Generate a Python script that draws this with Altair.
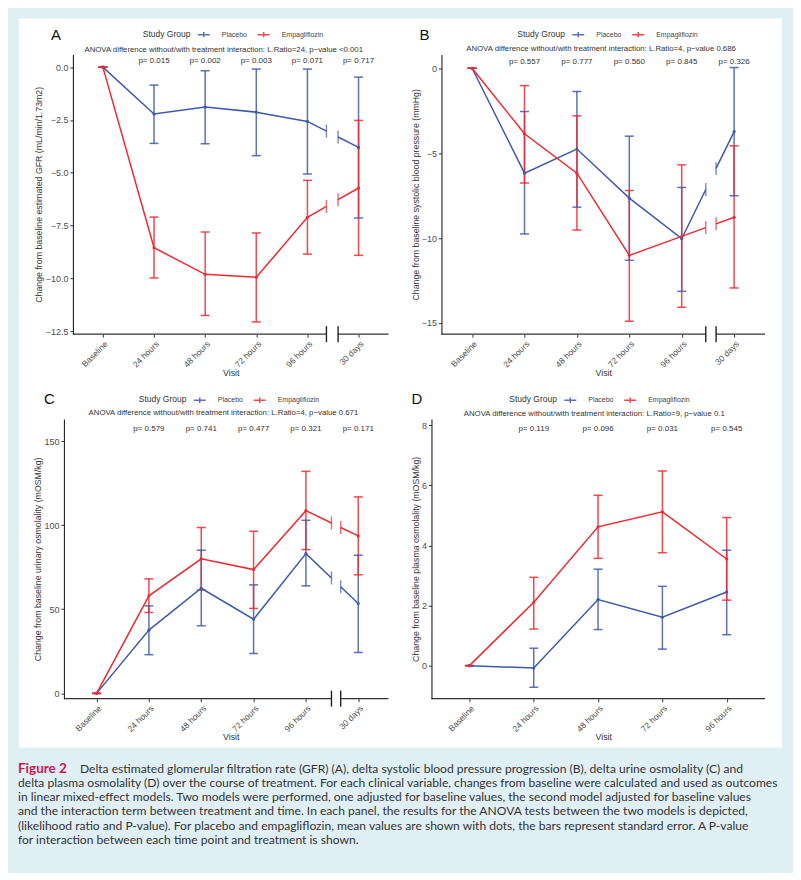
import json
import pandas as pd
import altair as alt

BLUE = "#3f5aa8"
RED = "#ee2a30"
LIGHT = "#e0eff4"
FONT = "Liberation Sans"
GROUPS = ["Placebo", "Empagliflozin"]

VISITS = ["Baseline", "24 hours", "48 hours", "72 hours", "96 hours", "30 days"]
VISITS_D = ["Baseline", "24 hours", "48 hours", "72 hours", "96 hours"]

# Panel A: eGFR
A_PLA_MEAN = [0, -2.22, -1.89, -2.13, -2.57, -3.80]
A_PLA_LO = [0, -3.61, -3.63, -4.19, -5.06, -7.14]
A_PLA_HI = [0, -0.85, -0.17, -0.09, -0.09, -0.47]
A_EMP_MEAN = [0, -8.55, -9.81, -9.95, -7.11, -5.72]
A_EMP_LO = [0, -9.98, -11.76, -12.06, -8.85, -8.91]
A_EMP_HI = [0, -7.10, -7.81, -7.85, -5.36, -2.52]
A_PVALS = ["p= 0.015", "p= 0.002", "p= 0.003", "p= 0.071", "p= 0.717"]
A_ANOVA = "ANOVA difference without/with treatment interaction: L.Ratio=24, p\u2212value <0.001"
A_YTITLE = "Change from baseline estimated GFR (mL/min/1.73m2)"
A_YTICKS = [0, -2.5, -5, -7.5, -10, -12.5]

# Panel B: systolic blood pressure
B_PLA_MEAN = [0, -6.18, -4.76, -7.65, -10.04, -3.73]
B_PLA_LO = [0, -9.76, -8.18, -11.31, -13.14, -7.51]
B_PLA_HI = [0, -2.55, -1.37, -4.00, -7.02, 0.04]
B_EMP_MEAN = [0, -3.86, -6.18, -11.02, -9.90, -8.78]
B_EMP_LO = [0, -6.76, -9.53, -14.90, -14.08, -12.94]
B_EMP_HI = [0, -1.02, -2.80, -7.20, -5.69, -4.57]
B_PVALS = ["p= 0.557", "p= 0.777", "p= 0.560", "p= 0.845", "p= 0.326"]
B_ANOVA = "ANOVA difference without/with treatment interaction: L.Ratio=4, p\u2212value 0.686"
B_YTITLE = "Change from baseline systolic blood pressure (mmHg)"
B_YTICKS = [0, -5, -10, -15]

# Panel C: urinary osmolality
C_PLA_MEAN = [0, 37.6, 62.5, 44.1, 83.1, 53.4]
C_PLA_LO = [0, 23.0, 40.2, 23.7, 63.9, 24.3]
C_PLA_HI = [0, 52.0, 85.1, 64.5, 102.9, 82.1]
C_EMP_MEAN = [0, 58.0, 80.0, 73.6, 108.6, 93.6]
C_EMP_LO = [0, 48.1, 61.4, 50.5, 85.5, 70.5]
C_EMP_HI = [0, 68.1, 98.6, 96.4, 132.0, 116.8]
C_PVALS = ["p= 0.579", "p= 0.741", "p= 0.477", "p= 0.321", "p= 0.171"]
C_ANOVA = "ANOVA difference without/with treatment interaction: L.Ratio=4, p\u2212value 0.671"
C_YTITLE = "Change from baseline urinary osmolality (mOSM/kg)"
C_YTICKS = [0, 50, 100, 150]

# Panel D: plasma osmolality
D_PLA_MEAN = [0, -0.08, 2.20, 1.61, 2.45]
D_PLA_LO = [0, -0.72, 1.20, 0.55, 1.03]
D_PLA_HI = [0, 0.58, 3.21, 2.64, 3.84]
D_EMP_MEAN = [0, 2.11, 4.62, 5.12, 3.55]
D_EMP_LO = [0, 1.22, 3.57, 3.76, 2.18]
D_EMP_HI = [0, 2.94, 5.67, 6.48, 4.93]
D_PVALS = ["p= 0.119", "p= 0.096", "p= 0.031", "p= 0.545"]
D_ANOVA = "ANOVA difference without/with treatment interaction: L.Ratio=9, p\u2212value 0.1"
D_YTITLE = "Change from baseline plasma osmolality (mOSM/kg)"
D_YTICKS = [0, 2, 4, 6, 8]

CAPTION_HEAD = "Figure 2"
CAPTION_LINE1 = ("Delta estimated glomerular filtration rate (GFR) (A), delta systolic blood "
                 "pressure progression (B), delta urine osmolality (C) and")
CAPTION_REST = [
    "delta plasma osmolality (D) over the course of treatment. For each clinical variable, changes from baseline were calculated and used as outcomes",
    "in linear mixed-effect models. Two models were performed, one adjusted for baseline values, the second model adjusted for baseline values",
    "and the interaction term between treatment and time. In each panel, the results for the ANOVA tests between the two models is depicted,",
    "(likelihood ratio and P-value). For placebo and empagliflozin, mean values are shown with dots, the bars represent standard error. A P-value",
    "for interaction between each time point and treatment is shown.",
]

LEGEND_SYMBOL = "M-1,0L1,0M0,-0.45L0,0.45"


def build_panel(letter, visits, series, pvals, anova, ytitle, yticks, yfmt, cfg, first=False):
    w, h = cfg["w"], cfg["h"]
    n = len(visits)
    bl_br = cfg.get("breaks")

    err_rows, cap_rows, pt_rows, line_rows, brk_rows = [], [], [], [], []
    for g, (mean, lo, hi) in zip(GROUPS, series):
        for i in range(n):
            err_rows.append({"x": i, "lo": lo[i], "hi": hi[i], "group": g})
            cap_rows.append({"x": i, "y": lo[i], "group": g})
            cap_rows.append({"x": i, "y": hi[i], "group": g})
            pt_rows.append({"x": i, "y": mean[i], "group": g})
        if bl_br:
            bl, br = bl_br
            ybl = mean[4] + (bl - 4) * (mean[5] - mean[4])
            ybr = mean[4] + (br - 4) * (mean[5] - mean[4])
            for i in range(5):
                line_rows.append({"x": i, "y": mean[i], "group": g, "seg": g + "0"})
            line_rows.append({"x": bl, "y": ybl, "group": g, "seg": g + "0"})
            line_rows.append({"x": br, "y": ybr, "group": g, "seg": g + "1"})
            line_rows.append({"x": 5, "y": mean[5], "group": g, "seg": g + "1"})
            brk_rows.append({"x": bl, "y": ybl, "group": g})
            brk_rows.append({"x": br, "y": ybr, "group": g})
        else:
            for i in range(n):
                line_rows.append({"x": i, "y": mean[i], "group": g, "seg": g + "0"})

    xaxis = alt.Axis(
        values=list(range(n)),
        labelExpr=f"{json.dumps(visits)}[datum.value]",
        labelAngle=315, labelAlign="right", labelBaseline="top",
        labelFontSize=8.5, labelColor="#4d4d4d", labelPadding=2,
        domain=False, ticks=True, tickSize=3, tickColor="#333333", grid=False,
        title="Visit", titleFontSize=8.8, titleFontWeight="normal", titleColor="#333333",
        titleY=38, titleBaseline="middle", zindex=1,
    )
    if yfmt == ".1f":
        lexpr = "replace(format(datum.value, '.1f'), '-', '\u2212')"
    else:
        lexpr = "replace(format(datum.value, 'd'), '-', '\u2212')"
    yaxis = alt.Axis(
        values=yticks, labelExpr=lexpr, labelFontSize=9, labelColor="#4d4d4d",
        labelPadding=2, domain=True, domainColor="#222222", domainWidth=1.1,
        ticks=True, tickSize=3, tickColor="#333333", grid=False, offset=cfg["yoff"],
        title=ytitle, titleFontSize=8.8, titleFontWeight="normal", titleColor="#333333",
        titleX=cfg["ytx"], titleY=h / 2, titleAngle=270, titleAlign="center",
        titleBaseline="middle", zindex=1,
    )
    xsc = alt.Scale(domain=cfg["xdom"], nice=False, zero=False)
    ysc = alt.Scale(domain=cfg["ydom"], nice=False, zero=False)
    X = alt.X("x:Q", scale=xsc, axis=xaxis)
    colsc = alt.Scale(domain=GROUPS, range=[BLUE, RED])
    COL = alt.Color(
        "group:N", scale=colsc,
        legend=alt.Legend(
            orient="none", legendX=cfg["lgx"], legendY=cfg["lgy"], direction="horizontal",
            title="Study Group", titleOrient="left", titleFontSize=8.5,
            titleFontWeight="normal", titleColor="#333333", titleFont=FONT,
            titlePadding=6, titleBaseline="middle",
            labelFontSize=7, labelColor="#444444", labelFont=FONT, labelOffset=11,
            symbolType=LEGEND_SYMBOL, symbolSize=144, symbolStrokeWidth=1.5,
            columnPadding=7, padding=0, zindex=2,
        ),
    )

    layers = []
    one = pd.DataFrame({"k": [0]})
    if first:
        layers.append(alt.Chart(one).mark_rect(color=LIGHT).encode(
            x=alt.value(-64), x2=alt.value(720), y=alt.value(-45), y2=alt.value(818)))
        layers.append(alt.Chart(one).mark_rect(color="#ffffff").encode(
            x=alt.value(-54), x2=alt.value(710), y=alt.value(-36), y2=alt.value(694)))
        layers.append(alt.Chart(one).mark_text(
            align="left", baseline="alphabetic", font="Lato", fontWeight="bold",
            fontSize=13.5, color="#c8194f").encode(
            x=alt.value(-55), y=alt.value(719.5), text=alt.value(CAPTION_HEAD)))
        layers.append(alt.Chart(one).mark_text(
            align="left", baseline="alphabetic", font="Lato", fontSize=12.1,
            color="#333333").encode(
            x=alt.value(7), y=alt.value(719.5), text=alt.value(CAPTION_LINE1)))
        layers.append(alt.Chart(one).mark_text(
            align="left", baseline="alphabetic", font="Lato", fontSize=12.1,
            color="#333333", lineHeight=14.2).encode(
            x=alt.value(-55), y=alt.value(733.5), text=alt.value(CAPTION_REST)))

    # custom x axis line with break
    xmin, xmax = cfg["xline"]
    if bl_br:
        ax_df = pd.DataFrame({"x": [xmin, bl_br[1]], "x2": [bl_br[0], xmax]})
    else:
        ax_df = pd.DataFrame({"x": [xmin], "x2": [xmax]})
    layers.append(alt.Chart(ax_df).mark_rule(color="#333333", strokeWidth=1.1).encode(
        x=X, x2="x2:Q", y=alt.value(h)))
    if bl_br:
        layers.append(alt.Chart(pd.DataFrame({"x": list(bl_br)})).mark_rule(
            color="#222222", strokeWidth=1.4).encode(
            x=X, y=alt.value(h - 8), y2=alt.value(h + 8)))

    err_df = pd.DataFrame(err_rows)
    layers.append(alt.Chart(err_df).mark_rule(strokeWidth=1.5, opacity=0.85).encode(
        x=X, y=alt.Y("lo:Q", scale=ysc, axis=yaxis), y2="hi:Q", color=COL))
    layers.append(alt.Chart(pd.DataFrame(cap_rows)).mark_tick(
        orient="horizontal", size=9, thickness=1.5, opacity=0.85).encode(
        x=X, y=alt.Y("y:Q", scale=ysc, axis=yaxis), color=COL))
    layers.append(alt.Chart(pd.DataFrame(line_rows)).mark_line(strokeWidth=1.5).encode(
        x=X, y=alt.Y("y:Q", scale=ysc, axis=yaxis), color=COL, detail="seg:N",
        order="x:Q"))
    if bl_br:
        layers.append(alt.Chart(pd.DataFrame(brk_rows)).mark_tick(
            orient="vertical", size=13, thickness=1.4).encode(
            x=X, y=alt.Y("y:Q", scale=ysc, axis=yaxis), color=COL))
    layers.append(alt.Chart(pd.DataFrame(pt_rows)).mark_circle(size=10, opacity=1).encode(
        x=X, y=alt.Y("y:Q", scale=ysc, axis=yaxis), color=COL))

    pv_df = pd.DataFrame({"x": list(range(1, n)), "label": pvals})
    layers.append(alt.Chart(pv_df).mark_text(
        fontSize=8, color="#333333", baseline="middle", align="center").encode(
        x=X, y=alt.value(cfg["pvy"]), text="label:N"))
    layers.append(alt.Chart(one).mark_text(
        fontSize=7.8, color="#333333", baseline="middle", align="center").encode(
        x=alt.value(cfg["anx"]), y=alt.value(cfg["any"]), text=alt.value(anova)))
    layers.append(alt.Chart(one).mark_text(
        fontSize=15, color="#111111", baseline="middle", align="left").encode(
        x=alt.value(cfg["ltx"]), y=alt.value(-20), text=alt.value(letter)))

    return alt.layer(*layers).properties(width=w, height=h)


cfgA = dict(w=316, h=280, xdom=[-0.586, 5.586], xline=[-0.586, 5.586], breaks=(4.372, 4.6),
            ydom=[-12.64, 0.60], yoff=0, ytx=-34, lgx=70, lgy=-27, ltx=-22,
            anx=151, any=-4.7, pvy=7)
cfgB = dict(w=324, h=280, xdom=[-0.585, 5.59], xline=[-0.585, 5.59], breaks=(4.459, 4.656),
            ydom=[-15.66, 0.81], yoff=0, ytx=-26, lgx=76, lgy=-27, ltx=-22,
            anx=159.8, any=-5, pvy=7.7)
cfgC = dict(w=316, h=280, xdom=[-0.452, 5.578], xline=[-0.618, 5.578], breaks=(4.488, 4.664),
            ydom=[-3.15, 163.1], yoff=9, ytx=-26.6, lgx=66, lgy=-26, ltx=-29,
            anx=150.7, any=-5.7, pvy=9.7)
cfgD = dict(w=324, h=280, xdom=[-0.435, 4.596], xline=[-0.59, 4.596],
            ydom=[-1.10, 8.21], yoff=10, ytx=-16, lgx=68, lgy=-26, ltx=-30,
            anx=153, any=-4.7, pvy=9.7)

pA = build_panel("A", VISITS, [(A_PLA_MEAN, A_PLA_LO, A_PLA_HI), (A_EMP_MEAN, A_EMP_LO, A_EMP_HI)],
                 A_PVALS, A_ANOVA, A_YTITLE, A_YTICKS, ".1f", cfgA, first=True)
pB = build_panel("B", VISITS, [(B_PLA_MEAN, B_PLA_LO, B_PLA_HI), (B_EMP_MEAN, B_EMP_LO, B_EMP_HI)],
                 B_PVALS, B_ANOVA, B_YTITLE, B_YTICKS, "d", cfgB)
pC = build_panel("C", VISITS, [(C_PLA_MEAN, C_PLA_LO, C_PLA_HI), (C_EMP_MEAN, C_EMP_LO, C_EMP_HI)],
                 C_PVALS, C_ANOVA, C_YTITLE, C_YTICKS, "d", cfgC)
pD = build_panel("D", VISITS_D, [(D_PLA_MEAN, D_PLA_LO, D_PLA_HI), (D_EMP_MEAN, D_EMP_LO, D_EMP_HI)],
                 D_PVALS, D_ANOVA, D_YTITLE, D_YTICKS, "d", cfgD)

chart = alt.concat(
    pA, pB, pC, pD, columns=2, spacing={"row": 85, "column": 53}, bounds="flush"
).resolve_scale(
    color="independent", x="independent", y="independent"
).resolve_legend(color="independent").properties(
    padding=0, background=LIGHT
).configure(font=FONT).configure_view(stroke="transparent")

chart.save("out.html", embed_options={"renderer": "svg", "actions": False})
